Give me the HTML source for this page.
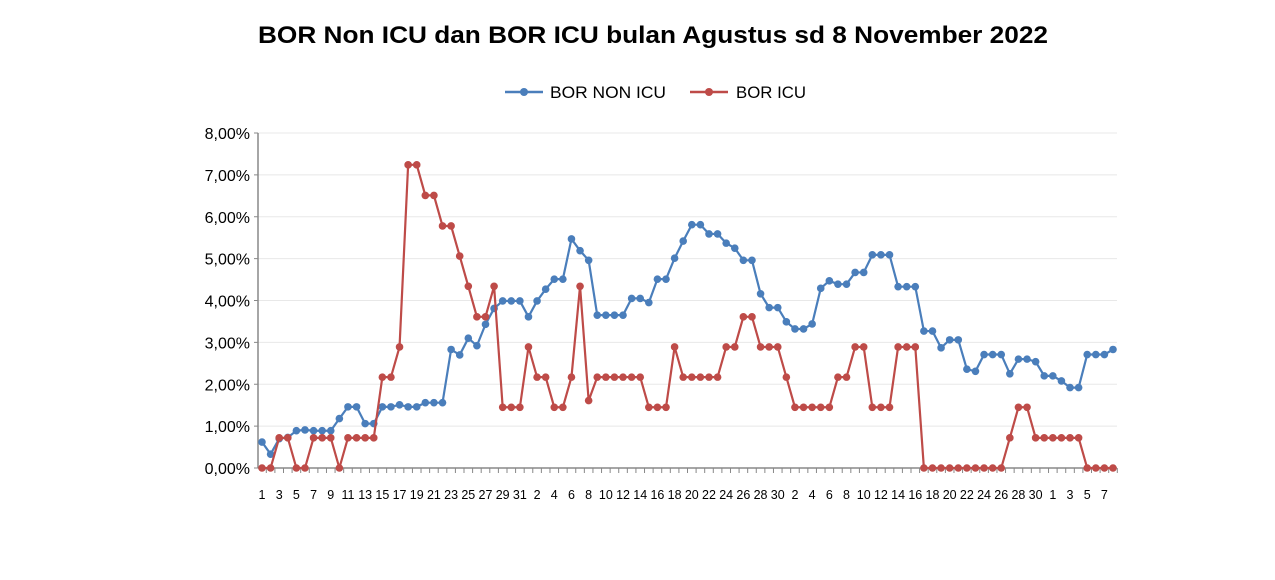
<!DOCTYPE html>
<html><head><meta charset="utf-8"><style>
html,body{margin:0;padding:0;background:#fff;}
svg{display:block;font-family:"Liberation Sans",sans-serif;}
</style></head><body>
<svg id="chart" width="1275" height="580" viewBox="0 0 1275 580">
<rect width="1275" height="580" fill="#fff"/>
<text x="653" y="43" text-anchor="middle" font-size="24" font-weight="bold" textLength="790" lengthAdjust="spacingAndGlyphs">BOR Non ICU dan BOR ICU bulan Agustus sd 8 November 2022</text>
<g>
 <g>
  <line x1="505" y1="92" x2="543" y2="92" stroke="#4a7ebb" stroke-width="2.5"/>
  <circle cx="524" cy="92" r="4" fill="#4a7ebb"/>
  <text x="550" y="98" font-size="17" textLength="116" lengthAdjust="spacingAndGlyphs">BOR NON ICU</text>
 </g>
 <g>
  <line x1="690" y1="92" x2="728" y2="92" stroke="#be4b48" stroke-width="2.5"/>
  <circle cx="709" cy="92" r="4" fill="#be4b48"/>
  <text x="736" y="98" font-size="17" textLength="70" lengthAdjust="spacingAndGlyphs">BOR ICU</text>
 </g>
</g>
<g id="grid"></g>
<g id="yaxis"></g>
<g id="xaxis"></g>
<g id="series"></g>
</svg>
<script>
const categories = ["1","","3","","5","","7","","9","","11","","13","","15","","17","","19","","21","","23","","25","","27","","29","","31","","2","","4","","6","","8","","10","","12","","14","","16","","18","","20","","22","","24","","26","","28","","30","","2","","4","","6","","8","","10","","12","","14","","16","","18","","20","","22","","24","","26","","28","","30","","1","","3","","5","","7",""];
const borNonIcu = [0.62,0.33,0.70,0.73,0.89,0.91,0.89,0.89,0.89,1.18,1.46,1.46,1.06,1.06,1.46,1.46,1.51,1.46,1.46,1.56,1.56,1.56,2.83,2.70,3.10,2.92,3.43,3.81,3.99,3.99,3.99,3.61,3.99,4.27,
4.51,4.51,5.47,5.19,4.96,3.65,3.65,3.65,3.65,4.05,4.05,3.95,4.51,4.51,5.01,5.42,5.81,5.81,5.59,5.59,5.37,5.25,4.96,4.96,4.16,3.83,3.83,3.49,3.32,3.32,3.44,4.29,4.47,4.39,
4.39,4.67,4.67,5.09,5.09,5.09,4.33,4.33,4.33,3.27,3.27,2.87,3.06,3.06,2.36,2.31,2.71,2.71,2.71,2.25,2.60,2.60,2.54,2.20,2.20,2.08,1.92,1.92,2.71,2.71,2.71,2.83];
const borIcu = [0,0,0.72,0.72,0,0,0.72,0.72,0.72,0,0.72,0.72,0.72,0.72,2.17,2.17,2.89,7.24,7.24,6.51,6.51,5.78,5.78,5.06,4.34,3.61,3.61,4.34,1.45,1.45,1.45,2.89,2.17,2.17,
1.45,1.45,2.17,4.34,1.61,2.17,2.17,2.17,2.17,2.17,2.17,1.45,1.45,1.45,2.89,2.17,2.17,2.17,2.17,2.17,2.89,2.89,3.61,3.61,2.89,2.89,2.89,2.17,1.45,1.45,1.45,1.45,1.45,2.17,
2.17,2.89,2.89,1.45,1.45,1.45,2.89,2.89,2.89,0,0,0,0,0,0,0,0,0,0,0.72,1.45,1.45,0.72,0.72,0.72,0.72,0.72,0.72,0,0,0,0];
const yTicks = [0,1,2,3,4,5,6,7,8];
const yTickLabels = ["0,00%","1,00%","2,00%","3,00%","4,00%","5,00%","6,00%","7,00%","8,00%"];

const NS="http://www.w3.org/2000/svg";
const plotL=258, plotR=1117, y0=468, y8=133;
const x=i=>262+i*(1113-262)/(categories.length-1);
const y=v=>y0-(v/8)*(y0-y8);
function mk(tag,attrs,parent){const e=document.createElementNS(NS,tag);for(const k in attrs)e.setAttribute(k,attrs[k]);parent.appendChild(e);return e;}
const grid=document.getElementById('grid'), ya=document.getElementById('yaxis'), xa=document.getElementById('xaxis'), ser=document.getElementById('series');
yTicks.forEach((t,k)=>{
  if(t>0){const g=mk('line',{x1:plotL,x2:plotR,y1:y(t),y2:y(t),stroke:'#e8e8e8','stroke-width':1},grid);
  
  }
  const tk=mk('line',{x1:plotL-4,x2:plotL,y1:y(t),y2:y(t),stroke:'#888'},ya);
  
  
  const tl=mk('text',{x:plotL-8,y:y(t)+6,'text-anchor':'end','font-size':16},ya);
  tl.textContent=yTickLabels[k];
  
  
});
const al=mk('line',{x1:plotL,x2:plotL,y1:y8,y2:y0,stroke:'#888','stroke-width':1.5},ya);


const bl=mk('line',{x1:plotL,x2:plotR,y1:y0,y2:y0,stroke:'#888','stroke-width':1.5},xa);


categories.forEach((c,i)=>{
  const tk=mk('line',{x1:x(i)+4.3,x2:x(i)+4.3,y1:y0,y2:y0+5,stroke:'#888'},xa);
  
  
  if(c){const t=mk('text',{x:x(i),y:y0+31,'text-anchor':'middle','font-size':12.5},xa);
  t.textContent=c;
  
  }
});
function drawSeries(vals,color,name){
  const g=mk('g',{},ser);
  
  
  const l=mk('polyline',{points:vals.map((v,i)=>x(i)+','+y(v)).join(' '),fill:'none',stroke:color,'stroke-width':2.2,'stroke-linejoin':'round'},g);
  
  
  vals.forEach((v,i)=>{const p=mk('circle',{cx:x(i),cy:y(v),r:3.8,fill:color},g);
    
    });
}
drawSeries(borNonIcu,'#4a7ebb','bor-non-icu');
drawSeries(borIcu,'#be4b48','bor-icu');
</script>
</body></html>
